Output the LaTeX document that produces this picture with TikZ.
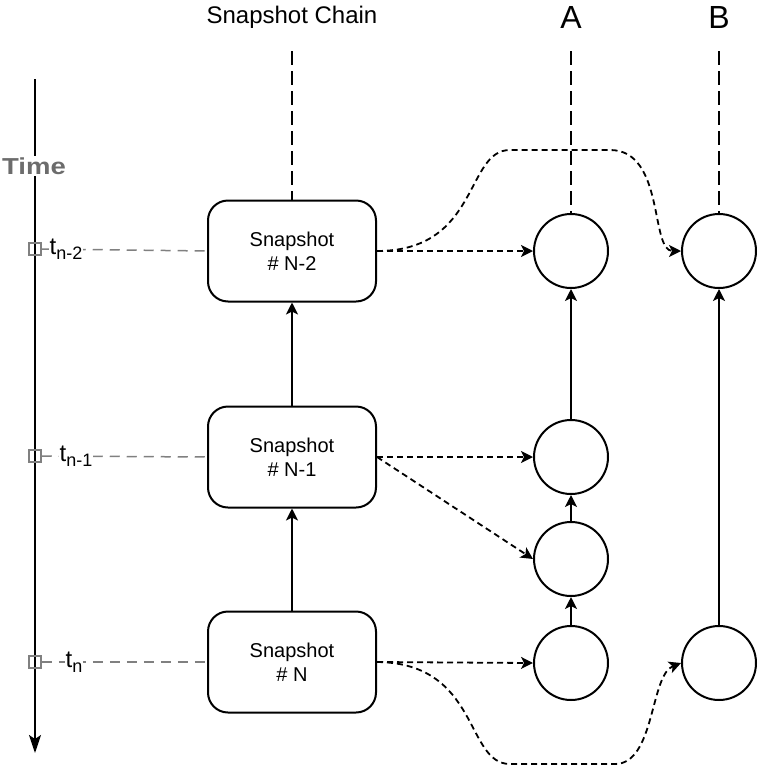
\documentclass[tikz,border=0pt]{standalone}
\usepackage{fontspec}
\setmainfont{Liberation Sans}
\usetikzlibrary{arrows.meta,positioning}

\begin{document}
\begin{tikzpicture}[x=1pt,y=-1pt,line width=2pt,
    snapbox/.style={draw,fill=white,rounded corners=20pt,minimum width=168pt,minimum height=101pt,align=center,font=\fontsize{20}{24}\selectfont},
    vers/.style={draw,fill=white,circle,minimum size=74pt,inner sep=0pt},
    link/.style={-{Stealth[length=12pt,width=12pt,inset=3pt]}},
    ref/.style={link,line width=1.8pt,dash pattern=on 6pt off 4pt},
    life/.style={dash pattern=on 14pt off 6pt},
    tick/.style={draw=gray,line width=1.5pt,minimum size=12pt,inner sep=0pt},
    guide/.style={draw=gray,line width=1.5pt,dash pattern=on 10pt off 7pt},
    tlabel/.style={fill=white,inner sep=1pt,font=\fontsize{24}{24}\selectfont}]
    \useasboundingbox (0,0) rectangle (758,766);
    \node [font=\fontsize{24}{24}\selectfont] (chain) at (292,17) {Snapshot Chain};
    \node [font=\fontsize{32}{32}\selectfont] (labA) at (571,17) {A};
    \node [font=\fontsize{32}{32}\selectfont] (labB) at (719,17) {B};
    \coordinate (chaintop) at (292,51);
    \coordinate (atop) at (571,51);
    \coordinate (btop) at (719,51);
    \coordinate (ttop) at (35,79);
    \coordinate (tbot) at (35,753);
    \draw [-{Stealth[length=18pt,width=12pt,inset=4pt]}] (ttop) -- (tbot);
    \node [fill=white,inner sep=2pt,text=gray!85!black,font=\fontsize{22}{22}\selectfont\bfseries] (time) at (34,166) {\scalebox{1.25}[1.05]{Time}};
    \node [snapbox] (s2) at (292,251) {Snapshot\\\# N-2};
    \node [snapbox] (s1) at (292,457) {Snapshot\\\# N-1};
    \node [snapbox] (s0) at (292,662) {Snapshot\\\# N};
    \node [vers] (a1) at (571,251) {};
    \node [vers] (a2) at (571,457) {};
    \node [vers] (a3) at (571,559) {};
    \node [vers] (a4) at (571,663) {};
    \node [vers] (b1) at (719,251) {};
    \node [vers] (b2) at (719,663) {};
    \node [tick] (k2) at (35,249) {};
    \node [tick] (k1) at (35,456) {};
    \node [tick] (k0) at (35,662) {};
    \draw [guide] (k2.east) -- (s2.west);
    \draw [guide] (k1.east) -- (s1.west);
    \draw [guide] (k0.east) -- (s0.west);
    \node [tlabel] (t2) at (66,249) {t\raisebox{-5pt}{\fontsize{18}{18}\selectfont n-2}};
    \node [tlabel] (t1) at (76,456) {t\raisebox{-5pt}{\fontsize{18}{18}\selectfont n-1}};
    \node [tlabel] (t0) at (74,662) {t\raisebox{-5pt}{\fontsize{18}{18}\selectfont n}};
    \draw [life] (chaintop) -- (s2.north);
    \draw [life] (atop) -- (a1.north);
    \draw [life] (btop) -- (b1.north);
    \draw [link] (s0) -- (s1);
    \draw [link] (s1) -- (s2);
    \draw [link] (a4) -- (a3);
    \draw [link] (a3) -- (a2);
    \draw [link] (a2) -- (a1);
    \draw [link] (b2) -- (b1);
    \draw [ref] (s2.east) -- (a1.west);
    \draw [ref] (s1.east) -- (a2.west);
    \draw [ref] (s1.east) -- (a3.west);
    \draw [ref] (s0.east) -- (a4.west);
    \draw [ref] (s2.east) .. controls (480,251) and (465,150) .. (510,150) -- (610,150)
        .. controls (665,150) and (650,251) .. (b1.west);
    \draw [ref] (s0.east) .. controls (480,663) and (465,764) .. (510,764) -- (615,764)
        .. controls (655,764) and (650,675) .. (b2.west);
\end{tikzpicture}
\end{document}
